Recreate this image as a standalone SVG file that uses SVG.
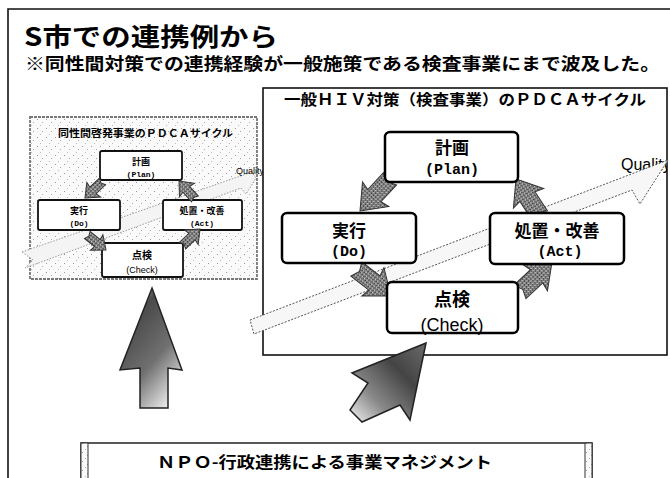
<svg xmlns="http://www.w3.org/2000/svg" xmlns:xlink="http://www.w3.org/1999/xlink" width="670" height="478" viewBox="0 0 670 478">
<style>
.jp{font-family:"Noto Sans CJK JP","Liberation Sans",sans-serif;font-weight:bold;fill:#000}
.mono{font-family:"Liberation Mono",monospace;font-weight:bold;fill:#000}
.sans{font-family:"Liberation Sans",sans-serif;fill:#000}
.box{fill:#fff;stroke:#000;stroke-width:2.5}
.sbox{fill:#fff;stroke:#111;stroke-width:1.8}
.darr{fill:url(#dith);stroke:#333;stroke-width:1}
.band{fill:#f7f7f7;stroke:#555;stroke-width:1;stroke-dasharray:2 1.5}
.sband{fill:#f4f4f4;stroke:#999;stroke-width:1;stroke-dasharray:1.5 1.5}
.frame{fill:none;stroke:#111;stroke-width:1.6}
</style>
<defs>
<pattern id="dith" width="3" height="3" patternUnits="userSpaceOnUse">
<rect width="3" height="3" fill="#8a8a8a"/>
<rect x="0" y="0" width="1" height="1" fill="#333"/>
<rect x="2" y="1" width="1" height="1" fill="#444"/>
<rect x="1" y="2" width="1" height="1" fill="#d0d0d0"/>
</pattern>
<pattern id="speck" width="9" height="9" patternUnits="userSpaceOnUse">
<rect width="9" height="9" fill="#fafafa"/>
<rect x="1" y="2" width="1" height="1" fill="#999"/>
<rect x="6" y="5" width="1" height="1" fill="#aaa"/>
<rect x="4" y="8" width="1" height="1" fill="#bbb"/>
</pattern>
<linearGradient id="gUp" x1="0.2" y1="0" x2="0.8" y2="1">
<stop offset="0" stop-color="#d0d0d0"/>
<stop offset="0.2" stop-color="#4a4a4a"/>
<stop offset="0.6" stop-color="#707070"/>
<stop offset="1" stop-color="#f2f2f2"/>
</linearGradient>
<linearGradient id="gDiag" x1="1" y1="0" x2="0" y2="1">
<stop offset="0" stop-color="#6a6a6a"/>
<stop offset="0.35" stop-color="#444"/>
<stop offset="0.7" stop-color="#8a8a8a"/>
<stop offset="1" stop-color="#f4f4f4"/>
</linearGradient>
<path id="bigArr" d="M0,0 L-23,-18 L-21,-9 L-44,-9 L-40,0 L-44,9 L-21,9 L-23,18 Z"/>
<path id="smArr" d="M0,0 L-12,-10 L-11,-4.5 L-24,-4.5 L-22,0 L-24,4.5 L-11,4.5 L-12,10 Z"/>
<clipPath id="hivClip"><rect x="263" y="88" width="404" height="268"/></clipPath>
</defs>

<rect width="670" height="478" fill="#fff"/>

<!-- outer frame -->
<path class="frame" d="M8,478 V9 H670"/>

<!-- headings -->
<g id="title">
<text class="jp" x="24" y="46" font-size="25" textLength="254" lengthAdjust="spacingAndGlyphs">S市での連携例から</text>
</g>
<g id="subtitle">
<text class="jp" x="25" y="70" font-size="17" textLength="635" lengthAdjust="spacingAndGlyphs">※同性間対策での連携経験が一般施策である検査事業にまで波及した。</text>
</g>

<!-- small PDCA picture -->
<g id="small-cycle">
<rect x="30" y="117" width="227" height="162" fill="url(#speck)" stroke="#777" stroke-width="1.8" stroke-dasharray="3 1"/>
<text class="jp" x="58" y="137" font-size="10" textLength="175" lengthAdjust="spacingAndGlyphs">同性間啓発事業のＰＤＣＡサイクル</text>
<polygon class="sband" points="22,252 252,172 256,178 246,194 241,188 25,268 33,260"/>
<text class="sans" x="236" y="174" font-size="9">Quality</text>
<g id="s-plan"><rect class="sbox" x="100" y="151" width="82" height="29" rx="2"/>
<text class="jp" x="141" y="165" font-size="9" text-anchor="middle">計画</text>
<text class="mono" x="141" y="177" font-size="8" text-anchor="middle">(Plan)</text></g>
<g id="s-do"><rect class="sbox" x="38" y="200" width="82" height="30" rx="2"/>
<text class="jp" x="79" y="214" font-size="9" text-anchor="middle">実行</text>
<text class="mono" x="79" y="226" font-size="8" text-anchor="middle">(Do)</text></g>
<g id="s-act"><rect class="sbox" x="163" y="200" width="79" height="30" rx="2"/>
<text class="jp" x="202" y="214" font-size="9" text-anchor="middle">処置・改善</text>
<text class="mono" x="202" y="226" font-size="8" text-anchor="middle">(Act)</text></g>
<g id="s-check"><rect class="sbox" x="102" y="243" width="81" height="34" rx="2"/>
<text class="jp" x="142" y="259" font-size="10" text-anchor="middle">点検</text>
<text class="sans" x="142" y="273" font-size="9" text-anchor="middle">(Check)</text></g>
<g id="s-arrows">
<use xlink:href="#smArr" class="darr" transform="translate(85,198) rotate(136.6)"/>
<use xlink:href="#smArr" class="darr" transform="translate(179,181) rotate(-131.6)"/>
<use xlink:href="#smArr" class="darr" transform="translate(106,250) rotate(38.7)"/>
<use xlink:href="#smArr" class="darr" transform="translate(200,229) rotate(-43.5)"/>
</g>
</g>

<!-- HIV PDCA frame -->
<g id="hiv-cycle">
<rect x="263" y="88" width="404" height="267" fill="#fff" stroke="#111" stroke-width="1.6"/>
<text class="jp" x="284" y="105" font-size="15" textLength="362" lengthAdjust="spacingAndGlyphs">一般ＨＩＶ対策（検査事業）のＰＤＣＡサイクル</text>
<text class="sans" x="621" y="170" font-size="16" clip-path="url(#hivClip)">Quality</text>
</g>

<g id="connectors">
<polygon id="quality-band" class="band" points="250,320 668,160 640,204 632,190 254,334"/>
<use xlink:href="#bigArr" class="darr" transform="translate(360,211) rotate(133)"/>
<use xlink:href="#bigArr" class="darr" transform="translate(516,179) rotate(-123)"/>
<use xlink:href="#bigArr" class="darr" transform="translate(391,296) rotate(38)"/>
<use xlink:href="#bigArr" class="darr" transform="translate(552,262) rotate(-43)"/>
<polygon id="up-arrow" points="152,288 182,370 168,368 168,408 140,408 140,368 120,370" fill="url(#gUp)" stroke="#222" stroke-width="1.5"/>
<polygon id="diag-arrow" points="426,343 410,420 400,405 362,422 350,410 368,383 352,373" fill="url(#gDiag)" stroke="#222" stroke-width="1.5"/>
</g>

<g id="plan"><rect class="box" x="385" y="132" width="133" height="50" rx="5"/>
<text class="jp" x="452" y="154" font-size="17" text-anchor="middle">計画</text>
<text class="mono" x="452" y="174" font-size="15" text-anchor="middle">(Plan)</text></g>
<g id="do"><rect class="box" x="282" y="213" width="134" height="50" rx="5"/>
<text class="jp" x="349" y="237" font-size="17" text-anchor="middle">実行</text>
<text class="mono" x="349" y="256" font-size="15" text-anchor="middle">(Do)</text></g>
<g id="act"><rect class="box" x="490" y="213" width="134" height="51" rx="5"/>
<text class="jp" x="557" y="237" font-size="17" text-anchor="middle">処置・改善</text>
<text class="mono" x="560" y="256" font-size="15" text-anchor="middle">(Act)</text></g>
<g id="check"><rect class="box" x="387" y="282" width="131" height="51" rx="5"/>
<text class="jp" x="452" y="306" font-size="18" text-anchor="middle">点検</text>
<text class="sans" x="452" y="331" font-size="18" text-anchor="middle">(Check)</text></g>

<!-- bottom box -->
<g id="npo">
<rect x="81" y="443" width="511" height="40" fill="#fff" stroke="#222" stroke-width="1.5"/>
<rect x="81" y="443" width="7" height="40" fill="url(#speck)" stroke="#333" stroke-width="1"/>
<rect x="585" y="443" width="7" height="40" fill="url(#speck)" stroke="#333" stroke-width="1"/>
<text class="jp" x="157" y="468" font-size="16" textLength="335" lengthAdjust="spacingAndGlyphs">ＮＰＯ-行政連携による事業マネジメント</text>
</g>
</svg>
